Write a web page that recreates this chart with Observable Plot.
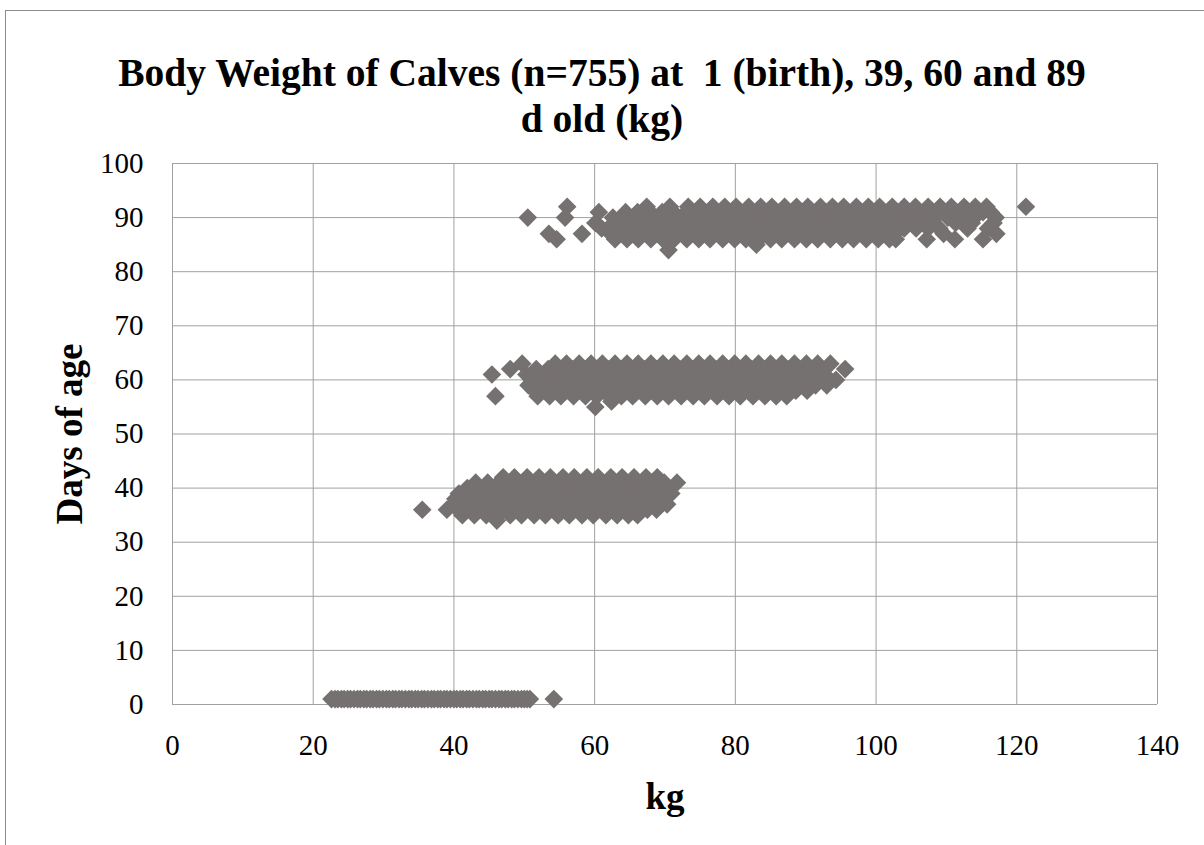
<!DOCTYPE html>
<html>
<head>
<meta charset="utf-8">
<script src="https://cdn.jsdelivr.net/npm/d3@7"></script>
<script src="https://cdn.jsdelivr.net/npm/@observablehq/plot@0.6"></script>
<style>
  body { margin: 0; background: #fff; }
  #wrap { position: relative; width: 1204px; height: 845px; overflow: hidden; background: #fff; }
  #frame { position: absolute; left: 5px; top: 10px; width: 1400px; height: 1000px; border: 1px solid #8c8c8c; }
  #chart { position: absolute; left: 0; top: 0; }
  #title { position: absolute; left: 0; top: 50px; width: 1204px; text-align: center;
           font-family: "Liberation Serif", "Times New Roman", serif; font-weight: bold;
           font-size: 39.5px; line-height: 46px; white-space: pre; color: #000; }
  #ytitle { position: absolute; left: 70px; top: 434px; transform: translate(-50%, -50%) rotate(-90deg);
            font-family: "Liberation Serif", "Times New Roman", serif; font-weight: bold;
            font-size: 37px; line-height: 40px; white-space: nowrap; color: #000; }
</style>
</head>
<body>
<div id="wrap">
  <div id="frame"></div>
  <div id="chart"></div>
  <div id="title">Body Weight of Calves (n=755) at  1 (birth), 39, 60 and 89
d old (kg)</div>
  <div id="ytitle">Days of age</div>
</div>
<script>
// ---- data ----
const xTicks = [0, 20, 40, 60, 80, 100, 120, 140];
const yTicks = [0, 10, 20, 30, 40, 50, 60, 70, 80, 90, 100];

// birth (day 1): body weights, kg
const birthDay = 1;
const kgBirth = [22.6, 23.1, 23.5, 24.0, 24.4, 24.9, 25.3, 25.8, 26.3, 26.7, 27.2, 27.6, 28.1, 28.5, 29.0, 29.4,
  29.9, 30.4, 30.8, 31.3, 31.7, 32.2, 32.6, 33.1, 33.6, 34.0, 34.5, 34.9, 35.4, 35.8, 36.3, 36.8, 37.2, 37.7,
  38.1, 38.6, 39.0, 39.5, 40.0, 40.4, 40.9, 41.3, 41.8, 42.2, 42.7, 43.2, 43.6, 44.1, 44.5, 45.0, 45.4, 45.9,
  46.4, 46.8, 47.3, 47.7, 48.2, 48.6, 49.1, 49.6, 50.0, 50.4, 50.8, 54.2];

// around 39 d: one list of weights per age (days)
const days39 = [42, 41, 40, 39, 38, 37, 36, 35, 34];
const kg39 = [
  [47.0, 48.6, 50.4, 52.1, 53.7, 55.5, 57.1, 58.9, 60.5, 62.3, 63.9, 65.6, 67.3, 68.9],
  [43.1, 44.8, 46.4, 48.2, 49.8, 51.6, 53.2, 55.0, 56.6, 58.4, 60.0, 61.8, 63.4, 65.2, 66.8, 68.5, 69.9, 71.7],
  [41.9, 43.5, 45.3, 46.9, 48.7, 50.3, 52.1, 53.7, 55.5, 57.1, 58.9, 60.5, 62.3, 63.9, 65.7, 67.3, 69.0, 70.6],
  [40.7, 42.4, 44.0, 45.8, 47.4, 49.2, 50.8, 52.6, 54.2, 56.0, 57.6, 59.4, 61.0, 62.8, 64.4, 66.2, 67.8, 69.5, 70.9],
  [40.2, 41.9, 43.6, 45.2, 47.0, 48.6, 50.4, 52.0, 53.8, 55.4, 57.2, 58.8, 60.6, 62.2, 64.0, 65.6, 67.4, 69.1],
  [39.9, 41.5, 43.2, 44.9, 46.6, 48.3, 50.0, 51.7, 53.4, 55.1, 56.8, 58.5, 60.2, 61.9, 63.6, 65.3, 67.0, 68.6, 70.3],
  [35.5, 39.0, 40.6, 42.3, 44.1, 45.7, 47.5, 49.1, 50.9, 52.5, 54.3, 55.9, 57.7, 59.3, 61.1, 62.7, 64.5, 66.1, 67.5, 68.8],
  [41.2, 42.9, 44.6, 46.2, 48.0, 49.6, 51.4, 53.0, 54.8, 56.4, 58.2, 59.8, 61.6, 63.2, 64.8, 66.1],
  [46.1]
];

// around 60 d
const days60 = [63, 62, 61, 60, 59, 58, 57, 56, 55];
const kg60 = [
  [49.7, 54.4, 56.0, 57.8, 59.5, 61.1, 62.9, 64.6, 66.2, 68.0, 69.7, 71.3, 73.1, 74.8, 76.4, 78.2, 79.9, 81.5, 83.3, 85.0, 86.6, 88.4, 90.1, 91.7, 93.5],
  [48.0, 51.7, 53.4, 55.0, 56.8, 58.5, 60.1, 61.9, 63.6, 65.2, 67.0, 68.7, 70.3, 72.1, 73.8, 75.4, 77.2, 78.9, 80.5, 82.3, 84.0, 85.6, 87.4, 89.1, 90.9, 95.6],
  [45.4, 50.3, 51.9, 53.7, 55.4, 57.0, 58.8, 60.5, 62.1, 63.9, 65.6, 67.2, 69.0, 70.7, 72.3, 74.1, 75.8, 77.4, 79.2, 80.9, 82.5, 84.3, 86.0, 87.6, 89.4, 91.1, 92.7],
  [51.1, 52.7, 54.5, 56.2, 57.8, 59.6, 61.3, 62.9, 64.7, 66.4, 68.0, 69.8, 71.5, 73.1, 74.9, 76.6, 78.2, 80.0, 81.7, 83.3, 85.1, 86.8, 88.4, 90.2, 91.9, 93.3, 94.3],
  [50.6, 52.2, 54.0, 55.7, 57.3, 59.1, 60.8, 62.4, 64.2, 65.9, 67.5, 69.3, 71.0, 72.6, 74.4, 76.1, 77.7, 79.5, 81.2, 82.8, 84.6, 86.3, 87.9, 89.7, 91.4, 93.0],
  [51.5, 53.2, 54.8, 56.6, 58.3, 59.9, 61.7, 63.4, 65.0, 66.8, 68.5, 70.1, 71.9, 73.6, 75.2, 77.0, 78.7, 80.3, 82.1, 83.8, 85.4, 87.2, 88.6, 90.2],
  [45.9, 51.9, 53.6, 55.2, 57.0, 58.7, 60.3, 62.1, 63.8, 65.4, 67.2, 68.9, 70.5, 72.3, 74.0, 75.6, 77.4, 79.1, 80.7, 82.5, 84.2, 85.8, 87.3],
  [62.4],
  [60.1]
];

// around 89 d
const days89 = [92, 91, 90, 89, 88, 87, 86, 85, 84];
const kg89 = [
  [56.1, 67.4, 70.7, 73.3, 75.0, 76.8, 78.5, 80.1, 81.9, 83.6, 85.2, 87.0, 88.7, 90.3, 92.1, 93.8, 95.4, 97.2, 98.9, 100.5, 102.3, 104.0, 105.6, 107.4, 109.1, 110.7, 112.5, 114.1, 115.7, 121.3],
  [60.6, 64.4, 66.1, 67.9, 69.6, 71.2, 73.0, 74.7, 76.3, 78.1, 79.8, 81.4, 83.2, 84.9, 86.5, 88.3, 90.0, 91.6, 93.4, 95.1, 96.7, 98.5, 100.2, 101.8, 103.6, 105.3, 106.9, 108.7, 110.4, 112.0, 113.8, 115.2, 116.3],
  [50.5, 55.8, 62.6, 64.3, 65.9, 67.7, 69.4, 71.0, 72.8, 74.5, 76.1, 77.9, 79.6, 81.2, 83.0, 84.7, 86.3, 88.1, 89.8, 91.4, 93.2, 94.9, 96.5, 98.3, 100.0, 101.6, 103.4, 105.1, 106.7, 108.4, 110.2, 112.2, 114.0, 117.0],
  [60.1, 62.7, 64.5, 66.2, 67.8, 69.6, 71.3, 72.9, 74.7, 76.4, 78.0, 79.8, 81.5, 83.1, 84.9, 86.6, 88.2, 90.0, 91.7, 93.3, 95.1, 96.8, 98.4, 100.2, 101.9, 103.5, 105.2, 106.9, 108.1, 111.3, 113.6, 116.7],
  [61.0, 63.2, 64.9, 66.5, 68.3, 70.0, 71.6, 73.4, 75.1, 76.7, 78.5, 80.2, 81.8, 83.6, 85.3, 86.9, 88.7, 90.4, 92.0, 93.8, 95.5, 97.1, 98.9, 100.6, 102.2, 104.0, 105.7, 107.4, 109.0, 113.0, 115.9],
  [53.5, 58.2, 62.3, 64.1, 65.7, 67.5, 69.2, 70.8, 72.6, 74.3, 75.9, 77.7, 79.4, 81.0, 82.8, 84.5, 86.1, 87.9, 89.6, 91.2, 93.0, 94.7, 96.3, 98.1, 99.8, 101.4, 102.6, 109.6, 117.1],
  [54.6, 62.9, 64.6, 66.2, 68.0, 69.7, 71.3, 73.1, 74.8, 76.4, 78.2, 79.9, 81.5, 83.3, 85.0, 86.6, 88.4, 90.1, 91.7, 93.5, 95.2, 96.8, 98.6, 100.3, 101.9, 102.8, 107.2, 111.2, 115.2],
  [83.0],
  [70.5]
];

// ---- build table ----
const rows = (days, kgs) => days.flatMap((d, i) => kgs[i].map(k => ({kg: k, day: d})));
const points = [
  ...kgBirth.map(k => ({kg: k, day: birthDay})),
  ...rows(days39, kg39),
  ...rows(days60, kg60),
  ...rows(days89, kg89)
];

const gridColor = "#a0a0a0";
const chart = Plot.plot({
  width: 1204,
  height: 845,
  marginLeft: 172,
  marginRight: 47,
  marginTop: 163,
  marginBottom: 141,
  style: {fontFamily: "'Liberation Serif', 'Times New Roman', serif", fontSize: "29px", color: "#000", background: "transparent"},
  x: {domain: [0, 140]},
  y: {domain: [0, 100]},
  marks: [
    Plot.gridX(xTicks, {stroke: gridColor, strokeOpacity: 1, strokeWidth: 1}),
    Plot.gridY(yTicks, {stroke: gridColor, strokeOpacity: 1, strokeWidth: 1}),
    Plot.axisX(xTicks, {tickSize: 0, tickPadding: 30, label: null, fontSize: 29}),
    Plot.axisY(yTicks, {tickSize: 0, tickPadding: 29, label: null, fontSize: 29}),
    Plot.dot(points, {x: "kg", y: "day", symbol: "diamond2", r: 8.4, fill: "#767171", stroke: "none"}),
    Plot.text(["kg"], {text: d => d, frameAnchor: "bottom", dy: 93, lineAnchor: "middle", fontSize: 37, fontWeight: "bold"})
  ]
});
document.getElementById("chart").appendChild(chart);
</script>
</body>
</html>
